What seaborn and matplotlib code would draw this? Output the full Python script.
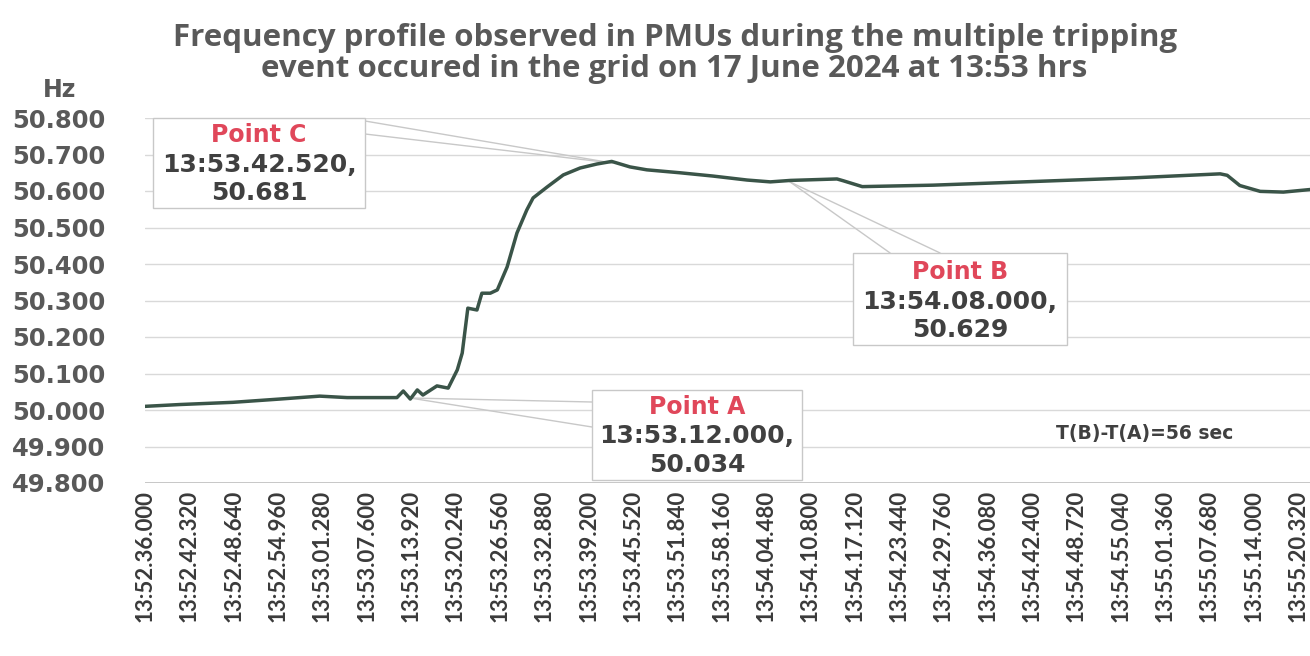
import matplotlib
matplotlib.use("Agg")
import matplotlib.pyplot as plt
from matplotlib.patches import Rectangle
import numpy as np
import pandas as pd
import seaborn as sns

# ---------------- data ----------------
# seconds after 13:52:36.000
time_s = [0.0, 5.0, 12.5, 19.2, 24.9, 28.8, 33.5, 35.9, 36.8, 37.8, 38.8, 39.6,
          41.6, 43.2, 44.5, 45.2, 46.0, 47.3, 48.0, 49.2, 50.2, 51.6, 53.0,
          54.4, 55.3, 57.3, 59.6, 62.0, 64.4, 66.5, 69.1, 71.5, 76.2, 80.9,
          85.8, 89.1, 92.0, 98.6, 99.5, 102.2, 112.3, 126.6, 140.8, 153.2,
          154.2, 156.0, 158.9, 162.2, 166.0]
freq_hz = [50.010, 50.015, 50.021, 50.030, 50.038, 50.034, 50.034, 50.034,
           50.052, 50.030, 50.055, 50.041, 50.066, 50.060, 50.110, 50.156,
           50.279, 50.274, 50.320, 50.320, 50.329, 50.392, 50.485, 50.548,
           50.581, 50.611, 50.644, 50.663, 50.674, 50.681, 50.666, 50.658,
           50.650, 50.641, 50.630, 50.625, 50.629, 50.633, 50.628, 50.612,
           50.616, 50.626, 50.636, 50.647, 50.643, 50.615, 50.599, 50.597,
           50.604]

tick_seconds = [0.00, 6.32, 12.64, 18.96, 25.28, 31.60, 37.92, 44.24, 50.56,
                56.88, 63.20, 69.52, 75.84, 82.16, 88.48, 94.80, 101.12,
                107.44, 113.76, 120.08, 126.40, 132.72, 139.04, 145.36,
                151.68, 158.00, 164.32]
tick_labels = ["13:52.36.000", "13:52.42.320", "13:52.48.640", "13:52.54.960",
               "13:53.01.280", "13:53.07.600", "13:53.13.920", "13:53.20.240",
               "13:53.26.560", "13:53.32.880", "13:53.39.200", "13:53.45.520",
               "13:53.51.840", "13:53.58.160", "13:54.04.480", "13:54.10.800",
               "13:54.17.120", "13:54.23.440", "13:54.29.760", "13:54.36.080",
               "13:54.42.400", "13:54.48.720", "13:54.55.040", "13:55.01.360",
               "13:55.07.680", "13:55.14.000", "13:55.20.320"]
y_ticks = [49.8, 49.9, 50.0, 50.1, 50.2, 50.3, 50.4, 50.5, 50.6, 50.7, 50.8]

callout_names = ["Point C", "Point A", "Point B"]
callout_times = ["13:53.42.520,", "13:53.12.000,", "13:54.08.000,"]
callout_values = ["50.681", "50.034", "50.629"]

df = pd.DataFrame({"t": time_s, "f": freq_hz})

# ---------------- figure ----------------
sns.set_style("white")
plt.rcParams["font.family"] = ["DejaVu Sans"]

fig = plt.figure(figsize=(13.1, 6.56), dpi=100)
ax = fig.add_axes([145 / 1310, 1 - 483 / 656, 1 - 145 / 1310, (483 - 118) / 656])

for yv in y_ticks:
    ax.axhline(yv, color="#d9d9d9", lw=1.0, zorder=0)
ax.axhline(49.8, color="#bfbfbf", lw=1.2, zorder=0)

sns.lineplot(data=df, x="t", y="f", ax=ax, color="#3a5448", lw=2.5, zorder=3)

ax.set_xlim(0, 166.0)
ax.set_ylim(49.8, 50.8)
for s in ax.spines.values():
    s.set_visible(False)
ax.set_xlabel("")
ax.set_ylabel("")

ax.set_yticks(y_ticks)
ax.set_yticklabels([f"{v:.3f}" for v in y_ticks], fontsize=17.5, fontweight="bold",
                   color="#595959")
ax.tick_params(axis="y", length=0, pad=0)
for lab in ax.get_yticklabels():
    lab.set_horizontalalignment("left")
    lab.set_x(-133 / 1165)

ax.set_xticks(tick_seconds)
ax.set_xticklabels(tick_labels, rotation=90, fontsize=16, color="#3a3a3a",
                   fontweight="bold", family=["Lato", "DejaVu Sans"])
ax.tick_params(axis="x", length=0, pad=5)

# title and unit
fig.text(0.515, 1 - 38 / 656, "Frequency profile observed in PMUs during the multiple tripping",
         ha="center", va="center", fontsize=22.5, fontweight="bold", color="#595959",
         family=["Open Sans", "DejaVu Sans"])
fig.text(0.515, 1 - 69 / 656, "event occured in the grid on 17 June 2024 at 13:53 hrs",
         ha="center", va="center", fontsize=22.5, fontweight="bold", color="#595959",
         family=["Open Sans", "DejaVu Sans"])
fig.text(60 / 1310, 1 - 90 / 656, "Hz", ha="center", va="center", fontsize=17,
         fontweight="bold", color="#595959")


# ---------------- callouts ----------------
def px2d(px, py):
    return (px - 145) / 7.017, 50.8 - (py - 118) / 365.0


boxes = [(153, 118, 365, 208), (592, 390, 802, 480), (853, 253, 1067, 345)]
wedges = [((612, 163), [(365, 121), (365, 134)]),
          ((410, 398), [(592, 402), (592, 427)]),
          ((790, 182), [(890, 253), (940, 253)])]
text_rows = [(135, 165, 193), (407, 436, 465), (272, 302, 330)]

for i in range(3):
    (tip, bases) = wedges[i]
    tx, ty = px2d(*tip)
    for b in bases:
        bx, by = px2d(*b)
        ax.plot([tx, bx], [ty, by], color="#c8c8c8", lw=1.0, zorder=2, clip_on=False)
    x0, y0 = px2d(boxes[i][0], boxes[i][3])
    x1, y1 = px2d(boxes[i][2], boxes[i][1])
    ax.add_patch(Rectangle((x0, y0), x1 - x0, y1 - y0, facecolor="white",
                           edgecolor="#c8c8c8", lw=1.0, zorder=4, clip_on=False))
    cx, _ = px2d((boxes[i][0] + boxes[i][2]) / 2, 0)
    r = text_rows[i]
    ax.text(cx, px2d(0, r[0])[1], callout_names[i], ha="center", va="center",
            fontsize=17, fontweight="bold", color="#e0475a", zorder=5)
    ax.text(cx, px2d(0, r[1])[1], callout_times[i], ha="center", va="center",
            fontsize=18, fontweight="bold", color="#404040", zorder=5)
    ax.text(cx, px2d(0, r[2])[1], callout_values[i], ha="center", va="center",
            fontsize=18, fontweight="bold", color="#404040", zorder=5)

tx, ty = px2d(1145, 433)
ax.text(tx, ty, "T(B)-T(A)=56 sec", ha="center", va="center", fontsize=13.5,
        fontweight="bold", color="#404040", zorder=5)

fig.savefig("out.png", dpi=100, facecolor="white")
